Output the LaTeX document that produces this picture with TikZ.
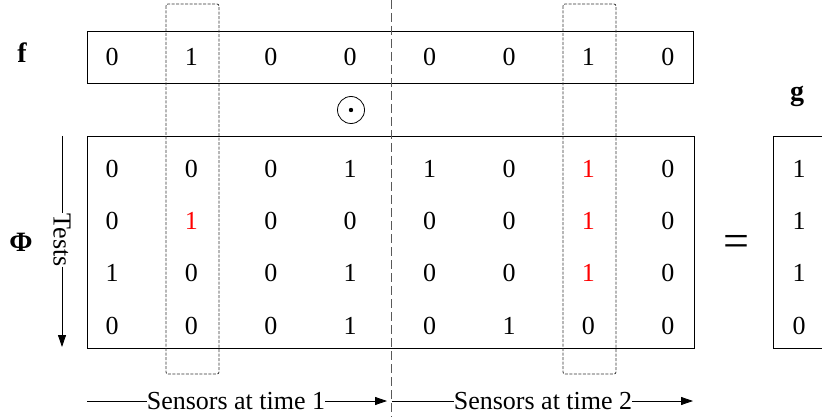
\documentclass[tikz,border=0pt]{standalone}
\usepackage{fontspec}
\setmainfont{Liberation Serif}
\usetikzlibrary{arrows.meta}
\begin{document}
\begin{tikzpicture}[x=1pt,y=-1pt,
  font=\fontsize{26}{30}\selectfont,
  box/.style={draw, line width=0.8pt},
  num/.style={inner sep=0pt, anchor=center},
  hl/.style={num, text=red},
  colbox/.style={draw=black!80, dash pattern=on 3pt off 1.5pt, rounded corners=2pt, line width=0.8pt},
  sep/.style={draw=black!65, dash pattern=on 9pt off 4pt, line width=0.9pt},
  tip/.style={-{Triangle[length=12pt,width=8pt]}},
  lbl/.style={inner sep=0pt, font=\fontsize{28}{32}\selectfont\bfseries},
  lab/.style={inner sep=0pt}]
\useasboundingbox (0,0) rectangle (822,417);
\clip (0,0) rectangle (822,417);
% boxes
\draw[box] (87,31) rectangle (693,83);
\draw[box] (87,136) rectangle (694,348);
\draw[box] (773,136) rectangle (860,348);
% dashed column boxes and separator
\draw[colbox] (166,4) rectangle (219,374);
\draw[colbox] (563,4) rectangle (616,374);
\draw[sep] (391,0) -- (391,417);
% labels
\node[lbl, anchor=base] (flab) at (22,63) {f};
\node[lbl] (philab) at (21,242) {Φ};
\node[lbl, anchor=base] (glab) at (797,101) {g};
% f vector
\foreach \v [count=\i] in {0,1,0,0,0,0,1,0}
  \node[num] (f\i) at ({112+79.4*(\i-1)},57) {\v};
% odot
\node[circle, draw, line width=0.8pt, minimum size=27pt, inner sep=0pt] (odot) at (351,110) {};
\fill (odot.center) circle (2.2pt);
% Phi matrix
\foreach \v/\st [count=\c] in {0/num,0/num,0/num,1/num,1/num,0/num,1/hl,0/num}
  \node[\st] (p1-\c) at ({112+79.4*(\c-1)},169) {\v};
\foreach \v/\st [count=\c] in {0/num,1/hl,0/num,0/num,0/num,0/num,1/hl,0/num}
  \node[\st] (p2-\c) at ({112+79.4*(\c-1)},221) {\v};
\foreach \v/\st [count=\c] in {1/num,0/num,0/num,1/num,0/num,0/num,1/hl,0/num}
  \node[\st] (p3-\c) at ({112+79.4*(\c-1)},272.5) {\v};
\foreach \v/\st [count=\c] in {0/num,0/num,0/num,1/num,0/num,1/num,0/num,0/num}
  \node[\st] (p4-\c) at ({112+79.4*(\c-1)},325.5) {\v};
% g vector
\foreach \v/\yy [count=\r] in {1/169,1/221,1/272.5,0/325.5}
  \node[num] (g\r) at (799,\yy) {\v};
% equals
\node[inner sep=0pt, font=\fontsize{46}{52}\selectfont] (eq) at (736,246) {=};
% Tests arrow
\node[lab, rotate=-90] (tests) at (62,240) {Tests};
\coordinate (ttop) at (62,136);
\coordinate (tbot) at (62,347);
\draw[line width=0.8pt] (ttop) -- (tests.west);
\draw[line width=0.8pt, tip] (tests.east) -- (tbot);
% Sensors arrows
\node[lab] (s1) at (236,401) {Sensors at time 1};
\node[lab] (s2) at (543,401) {Sensors at time 2};
\coordinate (s1a) at (87,401);
\coordinate (s1b) at (387,401);
\coordinate (s2a) at (392,401);
\coordinate (s2b) at (693,401);
\draw[line width=0.8pt] (s1a) -- (s1.west);
\draw[line width=0.8pt, tip] (s1.east) -- (s1b);
\draw[line width=0.8pt] (s2a) -- (s2.west);
\draw[line width=0.8pt, tip] (s2.east) -- (s2b);
\end{tikzpicture}
\end{document}
